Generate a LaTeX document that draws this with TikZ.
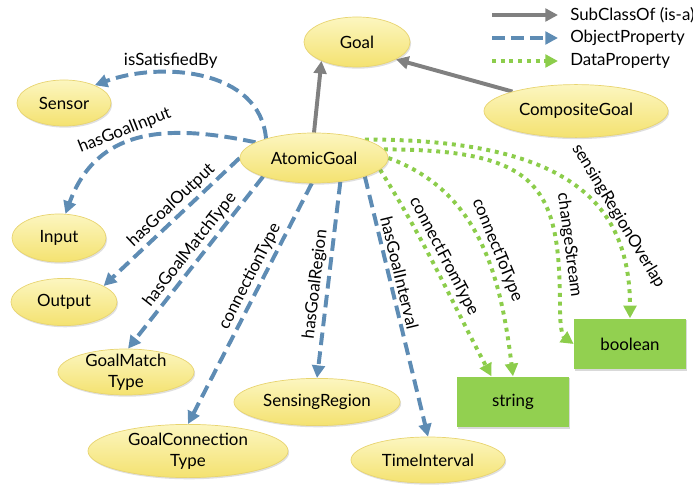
\documentclass[tikz,border=0pt]{standalone}
\usepackage{fontspec}
\setmainfont{Lato}
\usetikzlibrary{arrows.meta,shapes.geometric,shadows,backgrounds}

\definecolor{isagray}{RGB}{128,128,128}
\definecolor{objblue}{RGB}{94,140,180}
\definecolor{datagreen}{RGB}{140,205,75}
\definecolor{boxgreen}{RGB}{146,208,80}
\definecolor{clstop}{RGB}{252,246,192}
\definecolor{clsbottom}{RGB}{244,226,112}
\definecolor{clsline}{RGB}{232,212,112}

\begin{document}
\begin{tikzpicture}[x=0.025cm,y=0.025cm,
    font=\fontsize{12}{15}\selectfont,
    cls/.style={ellipse,inner sep=0pt,align=center,top color=clstop,bottom color=clsbottom,
        draw=clsline,line width=0.5pt,
        drop shadow={shadow xshift=0.8pt,shadow yshift=-1.2pt,opacity=0.25}},
    dtype/.style={rectangle,fill=boxgreen,minimum width=2.8cm,minimum height=1.27cm,
        drop shadow={shadow xshift=0.8pt,shadow yshift=-1.2pt,opacity=0.3}},
    subclass/.style={-{Triangle[length=9pt,width=9pt]},line width=2.8pt,isagray},
    objprop/.style={-{Triangle[length=9pt,width=9pt]},line width=2.8pt,objblue,
        dash pattern=on 9pt off 4.5pt},
    dataprop/.style={-{Triangle[length=9pt,width=9pt]},line width=2.8pt,datagreen,
        dash pattern=on 2.8pt off 3.4pt},
    lbl/.style={inner sep=2pt,text=black}]

    \useasboundingbox (0,0) rectangle (693,-485);

    % クラス
    \node[cls,minimum width=2.65cm,minimum height=1.25cm] (goal) at (357,-42) {Goal};
    \node[cls,minimum width=4.6cm,minimum height=1.32cm] (composite) at (576,-111) {CompositeGoal};
    \node[cls,minimum width=3.7cm,minimum height=1.25cm] (atomic) at (314,-158) {AtomicGoal};
    \node[cls,minimum width=2.35cm,minimum height=1.15cm] (sensor) at (64,-103) {Sensor};
    \node[cls,minimum width=2.35cm,minimum height=1.2cm] (input) at (59,-238) {Input};
    \node[cls,minimum width=2.65cm,minimum height=1.18cm] (output) at (64,-302) {Output};
    \node[cls,minimum width=3.4cm,minimum height=1.15cm,inner sep=-3pt] (match) at (126,-372) {GoalMatch\\Type};
    \node[cls,minimum width=5cm,minimum height=1.33cm,inner sep=-3pt] (conn) at (188,-451) {GoalConnection\\Type};
    \node[cls,minimum width=4.15cm,minimum height=1.18cm] (region) at (317,-402) {SensingRegion};
    \node[cls,minimum width=3.85cm,minimum height=1.15cm] (timeint) at (428,-460) {TimeInterval};

    % データ型
    \node[dtype] (string) at (513,-402) {string};
    \node[dtype] (boolean) at (630,-344) {boolean};

    % 凡例
    \coordinate (lgsubA) at (492,-15);
    \coordinate (lgsubB) at (558,-15);
    \coordinate (lgobjA) at (492,-38);
    \coordinate (lgobjB) at (558,-38);
    \coordinate (lgdatA) at (492,-61);
    \coordinate (lgdatB) at (558,-61);
    \node[anchor=west,inner sep=0pt] (lgsub) at (570,-15) {SubClassOf (is-a)};
    \node[anchor=west,inner sep=0pt] (lgobj) at (570,-38) {ObjectProperty};
    \node[anchor=west,inner sep=0pt] (lgdat) at (570,-61) {DataProperty};
    \draw[subclass] (lgsubA) -- (lgsubB);
    \draw[objprop] (lgobjA) -- (lgobjB);
    \draw[dataprop] (lgdatA) -- (lgdatB);

    \begin{pgfonlayer}{background}
        % is-a
        \draw[subclass] (atomic.north) -- (goal.208);
        \draw[subclass] (composite.163) -- (goal.336);

        % ObjectProperty
        \draw[objprop] (atomic.158) to[out=95,in=20]
            node[lbl,pos=0.65,above] {isSatisfiedBy} (sensor.30);
        \draw[objprop] (atomic.165) to[out=168,in=70,looseness=1.15]
            node[lbl,pos=0.55,sloped,above] {hasGoalInput} (input.75);
        \draw[objprop] (atomic.west) -- node[lbl,pos=0.44,sloped,above] {hasGoalOutput} (output.22);
        \draw[objprop] (atomic.200) -- node[lbl,pos=0.47,sloped,above] {hasGoalMatchType} (match.85);
        \draw[objprop] (atomic.265) -- node[lbl,pos=0.41,sloped,above] {connectionType} (conn.north);
        \draw[objprop] (atomic.318) -- node[lbl,pos=0.53,sloped,above] {hasGoalRegion} (region.north);
        \draw[objprop] (atomic.340) -- node[lbl,pos=0.38,sloped,above] {hasGoalInterval} (timeint.north);

        % DataProperty
        \draw[dataprop] (atomic.350) to[out=-58,in=118]
            node[lbl,pos=0.45,sloped,above] {connectFromType} (string.130);
        \draw[dataprop] (atomic.east) to[out=-20,in=97]
            node[lbl,pos=0.55,sloped,above] {connectToType} (string.north);
        \coordinate (csbend) at (560,-310);
        \draw[dataprop] (atomic.7) to[out=0,in=90,out looseness=1.7,in looseness=1.3]
            node[lbl,pos=0.8,sloped,above] {changeStream} (csbend)
            to[out=-90,in=145] (boolean.west);
        \draw[dataprop] (atomic.20) to[out=0,in=90,out looseness=1.6,in looseness=0.95]
            node[lbl,pos=0.68,sloped,above] {sensingRegionOverlap} (boolean.north);
    \end{pgfonlayer}
\end{tikzpicture}
\end{document}
